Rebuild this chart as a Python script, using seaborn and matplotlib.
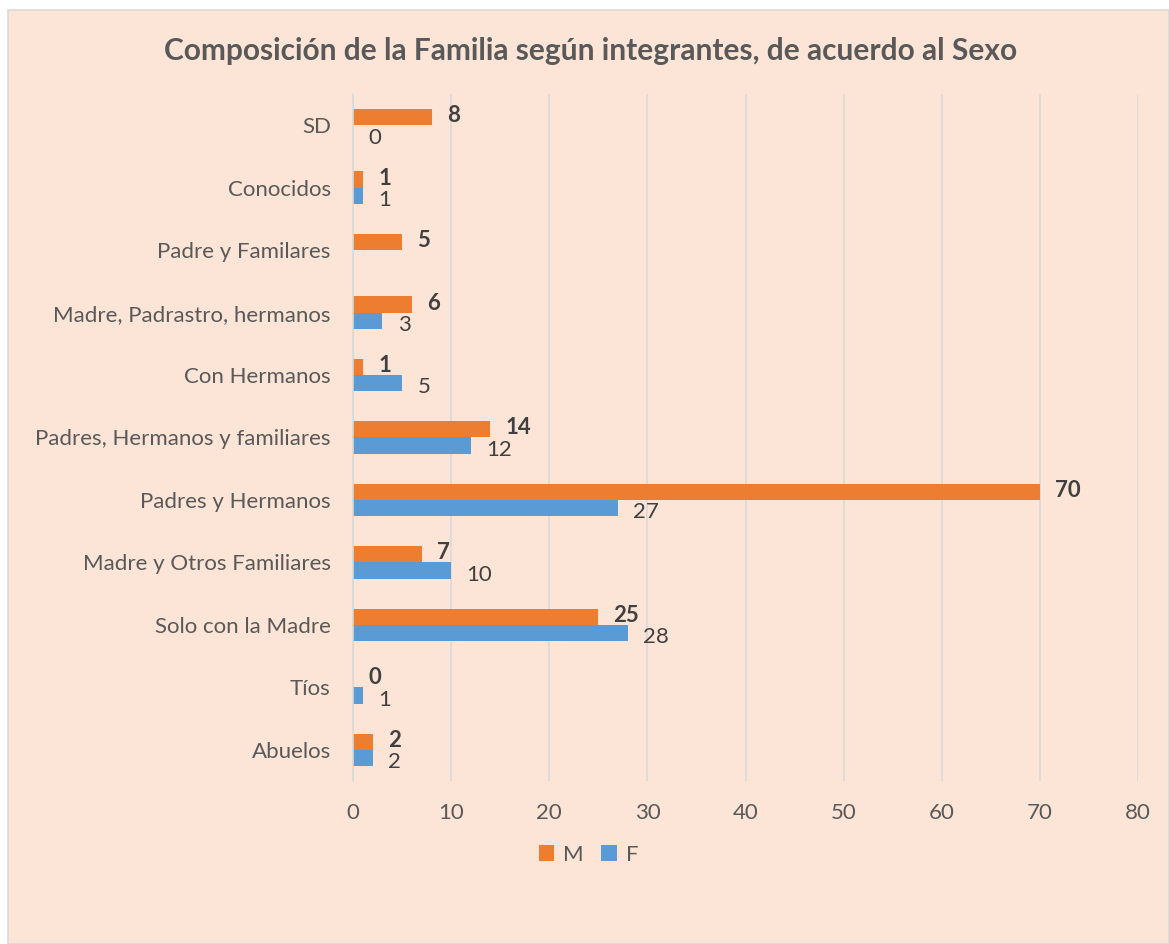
import numpy as np
import pandas as pd
import matplotlib
matplotlib.use("Agg")
import matplotlib.pyplot as plt
import seaborn as sns
from matplotlib.patches import Rectangle

categorias = [
    "SD",
    "Conocidos",
    "Padre y Familares",
    "Madre, Padrastro, hermanos",
    "Con Hermanos",
    "Padres, Hermanos y familiares",
    "Padres y Hermanos",
    "Madre y Otros Familiares",
    "Solo con la Madre",
    "Tíos",
    "Abuelos",
]
masculino = [8, 1, 5, 6, 1, 14, 70, 7, 25, 0, 2]
femenino = [0, 1, np.nan, 3, 5, 12, 27, 10, 28, 1, 2]

df = pd.DataFrame({
    "Categoria": categorias * 2,
    "Valor": masculino + femenino,
    "Sexo": ["M"] * len(categorias) + ["F"] * len(categorias),
})

fondo = "#FCE5D6"
gris = "#595959"
colores = {"M": "#ED7D31", "F": "#5B9BD5"}

sns.set_theme(style="white")
plt.rcParams["font.family"] = ["Lato", "DejaVu Sans"]

fig = plt.figure(figsize=(11.69, 9.44), dpi=100)
fig.patch.set_facecolor("white")
fig.patches.append(Rectangle((8 / 1169, 0), 1 - 8 / 1169, 1 - 10 / 944,
                             transform=fig.transFigure, facecolor=fondo,
                             edgecolor="#D9D9D9", linewidth=1.2, zorder=-10))

ax = fig.add_axes([0.302, 0.1727, 0.6715, 0.7277])
ax.set_facecolor(fondo)

sns.barplot(data=df, y="Categoria", x="Valor", hue="Sexo", hue_order=["M", "F"],
            order=categorias, palette=colores, orient="h", width=0.52,
            dodge=True, ax=ax, legend=True, saturation=1, linewidth=0)

ax.set_xlim(0, 80)
ax.set_xticks(range(0, 81, 10))
ax.set_xlabel("")
ax.set_ylabel("")
ax.grid(axis="x", color="#D9D9D9", linewidth=1.2)
ax.set_axisbelow(True)
for s in ["top", "right", "bottom"]:
    ax.spines[s].set_visible(False)
ax.spines["left"].set_color("#D9D9D9")
ax.spines["left"].set_linewidth(1.2)
ax.tick_params(axis="both", length=0, labelsize=16, colors=gris)
ax.tick_params(axis="y", pad=16)
ax.tick_params(axis="x", pad=16)

for cont, sexo in zip(ax.containers, ["M", "F"]):
    for bar in cont:
        w = bar.get_width()
        if np.isnan(w):
            continue
        yc = bar.get_y() + bar.get_height() / 2
        ax.annotate(f"{w:g}", (w, yc), xytext=(11, 1 if sexo == "M" else -3),
                    textcoords="offset points", va="center", ha="left",
                    fontsize=16, color="#404040",
                    fontweight="bold" if sexo == "M" else "normal")

leg = ax.legend(loc="upper center", bbox_to_anchor=(0.30, -0.064), ncol=2,
                frameon=False, fontsize=16, handlelength=0.7, handleheight=0.7,
                handletextpad=0.4, columnspacing=0.8, labelcolor=gris)

fig.text(0.505, 0.946, "Composición de la Familia según integrantes, de acuerdo al Sexo",
         ha="center", va="center", fontsize=21.5, fontweight="bold", color=gris)

fig.savefig("out.png", dpi=100, facecolor=fig.get_facecolor())
